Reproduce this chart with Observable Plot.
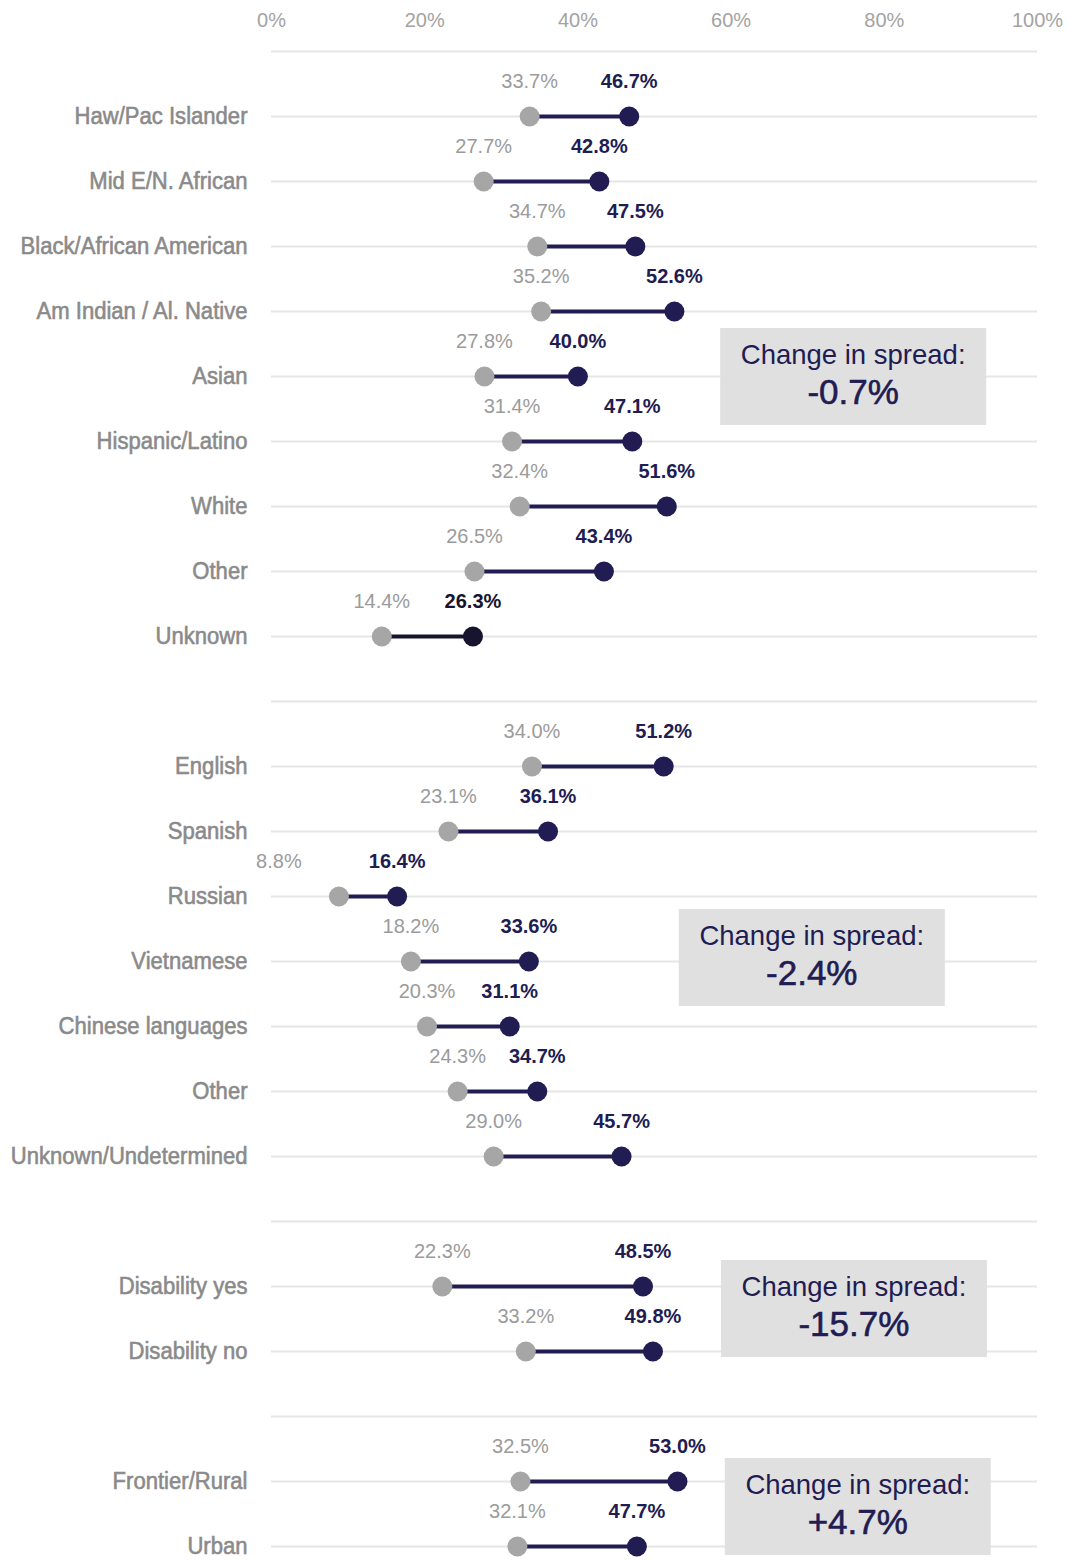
<!DOCTYPE html>
<html>
<head>
<meta charset="utf-8">
<script src="https://cdn.jsdelivr.net/npm/d3@7"></script>
<script src="https://cdn.jsdelivr.net/npm/@observablehq/plot@0.6"></script>
<style>
  html, body { margin: 0; padding: 0; background: #fff; }
  #chart svg { display: block; }
</style>
</head>
<body>
<div id="chart"></div>
<script>
// ---- data ----
const categories = ["Haw/Pac Islander","Mid E/N. African","Black/African American","Am Indian / Al. Native","Asian","Hispanic/Latino","White","Other","Unknown",
  "English","Spanish","Russian","Vietnamese","Chinese languages","Other","Unknown/Undetermined",
  "Disability yes","Disability no",
  "Frontier/Rural","Urban"];
const groups = ["race","race","race","race","race","race","race","race","race",
  "lang","lang","lang","lang","lang","lang","lang",
  "dis","dis",
  "geo","geo"];
const before = [33.7,27.7,34.7,35.2,27.8,31.4,32.4,26.5,14.4, 34.0,23.1,8.8,18.2,20.3,24.3,29.0, 22.3,33.2, 32.5,32.1];
const after  = [46.7,42.8,47.5,52.6,40.0,47.1,51.6,43.4,26.3, 51.2,36.1,16.4,33.6,31.1,34.7,45.7, 48.5,49.8, 53.0,47.7];
const groupOrder = ["race","lang","dis","geo"];
const spreadChange = ["-0.7%","-2.4%","-15.7%","+4.7%"];
const xTicks = [0,20,40,60,80,100];

// ---- build rows (a blank separator row before each group) ----
const rows = categories.map((c,i) => ({id: groups[i] + ":" + i, category: c, group: groups[i], before: before[i], after: after[i]}));
const rowIds = [];
const labelOf = new Map();
groupOrder.forEach((g, gi) => {
  const sep = "sep" + gi;
  rowIds.push(sep); labelOf.set(sep, "");
  rows.filter(r => r.group === g).forEach(r => { rowIds.push(r.id); labelOf.set(r.id, r.category); });
});

const NAVY = "#211c52";
const DARK = "#17142f";
const GRAY_DOT = "#a6a6a6";
const navyFor = d => (d.group === "race" && d.category === "Unknown") ? DARK : NAVY;
const fmt = v => v.toFixed(1) + "%";

const regular = "'Liberation Sans', Arial, sans-serif";

// annotation boxes: anchored to a row of each group
const boxes = [
  {group:"race", spread: spreadChange[0], anchor: "Asian", xc: 76.0, dyc: 0.5},
  {group:"lang", spread: spreadChange[1], anchor: "Vietnamese", xc: 70.6, dyc: -3.5},
  {group:"dis",  spread: spreadChange[2], anchor: "Disability yes", xc: 76.1, dyc: 22.5},
  {group:"geo",  spread: spreadChange[3], anchor: "Frontier/Rural", xc: 76.6, dyc: 25.5}
];

function spreadBoxes(index, scales, values, dimensions, context) {
  const g = d3.create("svg:g");
  for (const b of boxes) {
    const r = rows.find(r => r.group === b.group && r.category === b.anchor);
    const cx = scales.x(b.xc);
    const cy = scales.y(r.id) + b.dyc;
    const w = 266, h = 97;
    g.append("rect").attr("x", cx - w/2).attr("y", cy - h/2).attr("width", w).attr("height", h).attr("fill", "#e0e0e0");
    g.append("text").attr("x", cx).attr("y", cy - 22).attr("text-anchor", "middle").attr("dominant-baseline", "central")
      .attr("font-family", regular).attr("font-size", 27.5).attr("fill", NAVY).text("Change in spread:");
    g.append("text").attr("x", cx).attr("y", cy + 15).attr("text-anchor", "middle").attr("dominant-baseline", "central")
      .attr("font-family", regular).attr("font-size", 35).attr("fill", NAVY)
      .attr("stroke", NAVY).attr("stroke-width", 0.6).text(b.spread);
  }
  return g.node();
}

const isShifted = d => d.category === "Russian";

const chart = Plot.plot({
  width: 1068,
  height: 1560,
  marginTop: 48,
  marginBottom: 12,
  marginLeft: 271,
  marginRight: 31,
  style: {background: "#fff", overflow: "visible"},
  x: {domain: [0, 100], axis: null},
  y: {type: "point", domain: rowIds, padding: 0, range: [48.5, 1548], axis: null},
  marks: [
    Plot.ruleY(rowIds, {y: d => d, x1: 0, x2: 100, stroke: "#e6e6e6", strokeWidth: 2}),
    Plot.axisX({anchor: "top", ticks: xTicks, tickFormat: d => d + "%", tickSize: 0, tickPadding: 22,
      fontSize: 20, fontFamily: regular, fill: "#a3a3a3", label: null}),
    Plot.axisY({anchor: "left", tickSize: 0, tickPadding: 24, tickFormat: d => labelOf.get(d), label: null,
      fontSize: 24, fontFamily: regular, fill: "#8a8a8a", className: "ylabels"}),
    Plot.ruleY(rows, {y: "id", x1: "before", x2: "after", stroke: navyFor, strokeWidth: 4}),
    Plot.dot(rows, {x: "before", y: "id", r: 10, fill: GRAY_DOT}),
    Plot.dot(rows, {x: "after", y: "id", r: 10, fill: navyFor}),
    Plot.text(rows.filter(d => !isShifted(d)), {x: "before", y: "id", text: d => fmt(d.before), dy: -35,
      fill: "#9b9b9b", fontSize: 20, fontFamily: regular}),
    Plot.text(rows.filter(isShifted), {x: "before", y: "id", text: d => fmt(d.before), dy: -35, dx: -60,
      fill: "#9b9b9b", fontSize: 20, fontFamily: regular}),
    Plot.text(rows, {x: "after", y: "id", text: d => fmt(d.after), dy: -35,
      fill: navyFor, fontSize: 20, fontWeight: "bold", fontFamily: regular}),
    spreadBoxes
  ]
});

// condense and slightly embolden the row labels (the reference uses a condensed medium face)
d3.select(chart).selectAll(".ylabels text").each(function() {
  const t = this.getAttribute("transform");
  if (t) this.setAttribute("transform", t + " scale(0.92,1)");
  else {
    const x = +this.getAttribute("x") || 0, y = +this.getAttribute("y") || 0;
    this.setAttribute("transform", `translate(${x},${y}) scale(0.92,1)`);
    this.setAttribute("x", 0); this.setAttribute("y", 0);
  }
  this.setAttribute("stroke", "#8a8a8a");
  this.setAttribute("stroke-width", 0.6);
});

document.getElementById("chart").appendChild(chart);
</script>
</body>
</html>
